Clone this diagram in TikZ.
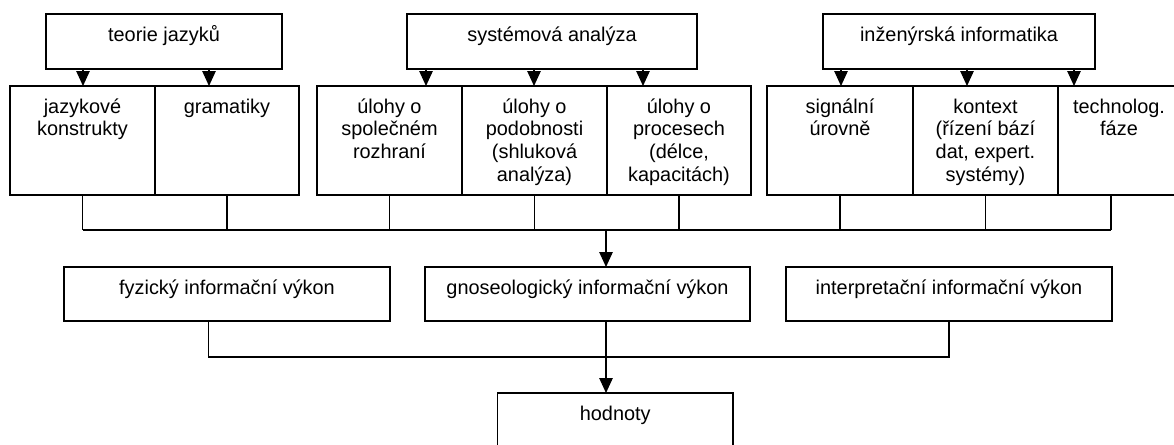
\documentclass[tikz,border=0pt]{standalone}
\usepackage{fontspec}
\setmainfont{Liberation Sans}
\usetikzlibrary{arrows.meta}
% invisible rule that fixes the height of a label's first line
\newcommand\capline{\rule{0pt}{19pt}}
\begin{document}
\begin{tikzpicture}[x=1pt,y=-1pt,
  box/.style={draw,line width=1.1pt,inner sep=0pt,outer sep=0pt},
  txt/.style={anchor=north,inner sep=0pt,align=center,
    font=\fontsize{19.9}{22.6}\selectfont},
  wire/.style={line width=1.1pt},
  arr/.style={line width=1.1pt,-{Triangle[length=15pt,width=13.5pt]}}]
\useasboundingbox (0,0) rectangle (1174,444);
\clip (0,0) rectangle (1174,444);

% top sources
\node[box,minimum width=236pt,minimum height=55pt] (T1) at (164,41.5) {};
\node[box,minimum width=290pt,minimum height=55pt] (T2) at (552,41.5) {};
\node[box,minimum width=272pt,minimum height=55pt] (T3) at (959,41.5) {};

% second row
\node[box,minimum width=145pt,minimum height=109pt] (B1) at (82.5,140.5) {};
\node[box,minimum width=144pt,minimum height=109pt] (B2) at (227,140.5) {};
\node[box,minimum width=145pt,minimum height=109pt] (B3) at (389.5,140.5) {};
\node[box,minimum width=145pt,minimum height=109pt] (B4) at (534.5,140.5) {};
\node[box,minimum width=144pt,minimum height=109pt] (B5) at (679,140.5) {};
\node[box,minimum width=146pt,minimum height=109pt] (B6) at (840,140.5) {};
\node[box,minimum width=145pt,minimum height=109pt] (B7) at (985.5,140.5) {};
\node[box,minimum width=122pt,minimum height=109pt] (B8) at (1119,140.5) {};

% information performance row
\node[box,minimum width=326pt,minimum height=54pt] (M1) at (227,294) {};
\node[box,minimum width=325pt,minimum height=54pt] (M2) at (587.5,294) {};
\node[box,minimum width=326pt,minimum height=54pt] (M3) at (949,294) {};

% values
\node[box,minimum width=235.5pt,minimum height=57pt] (H) at (615.25,421.5) {};

% labels
\node[txt] (T1t) at ([yshift=-8pt]T1.north) {\capline teorie jazyků};
\node[txt] (T2t) at ([yshift=-8pt]T2.north) {\capline systémová analýza};
\node[txt] (T3t) at ([yshift=-8pt]T3.north) {\capline inženýrská informatika};
\node[txt] (B1t) at ([yshift=-8pt]B1.north) {\capline jazykové\\konstrukty};
\node[txt] (B2t) at ([yshift=-8pt]B2.north) {\capline gramatiky};
\node[txt] (B3t) at ([yshift=-8pt]B3.north) {\capline úlohy o\\společném\\rozhraní};
\node[txt] (B4t) at ([yshift=-8pt]B4.north) {\capline úlohy o\\podobnosti\\(shluková\\analýza)};
\node[txt] (B5t) at ([yshift=-8pt]B5.north) {\capline úlohy o\\procesech\\(délce,\\kapacitách)};
\node[txt] (B6t) at ([yshift=-8pt]B6.north) {\capline signální\\úrovně};
\node[txt] (B7t) at ([yshift=-8pt]B7.north) {\capline kontext\\(řízení bází\\dat, expert.\\systémy)};
\node[txt] (B8t) at ([yshift=-8pt]B8.north) {\capline technolog.\\fáze};
\node[txt] (M1t) at ([yshift=-8pt]M1.north) {\capline fyzický informační výkon};
\node[txt] (M2t) at ([yshift=-8pt]M2.north) {\capline gnoseologický informační výkon};
\node[txt] (M3t) at ([yshift=-8pt]M3.north) {\capline interpretační informační výkon};
\node[txt] (Ht) at ([yshift=-8pt]H.north) {\capline hodnoty};

% arrow columns
\coordinate (a1) at (83,0);
\coordinate (a2) at (209,0);
\coordinate (a3) at (426,0);
\coordinate (a4) at (534,0);
\coordinate (a5) at (643,0);
\coordinate (a6) at (841,0);
\coordinate (a7) at (967,0);
\coordinate (a8) at (1074,0);
\draw[arr] (T1.south -| a1) -- (B1.north -| a1);
\draw[arr] (T1.south -| a2) -- (B2.north -| a2);
\draw[arr] (T2.south -| a3) -- (B3.north -| a3);
\draw[arr] (T2.south -| a4) -- (B4.north -| a4);
\draw[arr] (T2.south -| a5) -- (B5.north -| a5);
\draw[arr] (T3.south -| a6) -- (B6.north -| a6);
\draw[arr] (T3.south -| a7) -- (B7.north -| a7);
\draw[arr] (T3.south -| a8) -- (B8.north -| a8);

% first collecting bus
\coordinate (busA) at (606,230);
\coordinate (b8) at (1111,0);
\foreach \b in {B1,B2,B3,B4,B5,B6,B7}
  \draw[wire] (\b.south) -- (\b.south |- busA);
\draw[wire] (B8.south -| b8) -- (b8 |- busA);
\draw[wire] (B1.south |- busA) -- (b8 |- busA);
\draw[arr] (busA) -- (M2.north -| busA);

% second collecting bus
\coordinate (busB) at (606,357);
\coordinate (m1) at (208.6,0);
\draw[wire] (M1.south -| m1) |- (busB) -| (M3.south);
\draw[wire] (M2.south -| busB) -- (busB);
\draw[arr] (busB) -- (H.north -| busB);
\end{tikzpicture}
\end{document}
